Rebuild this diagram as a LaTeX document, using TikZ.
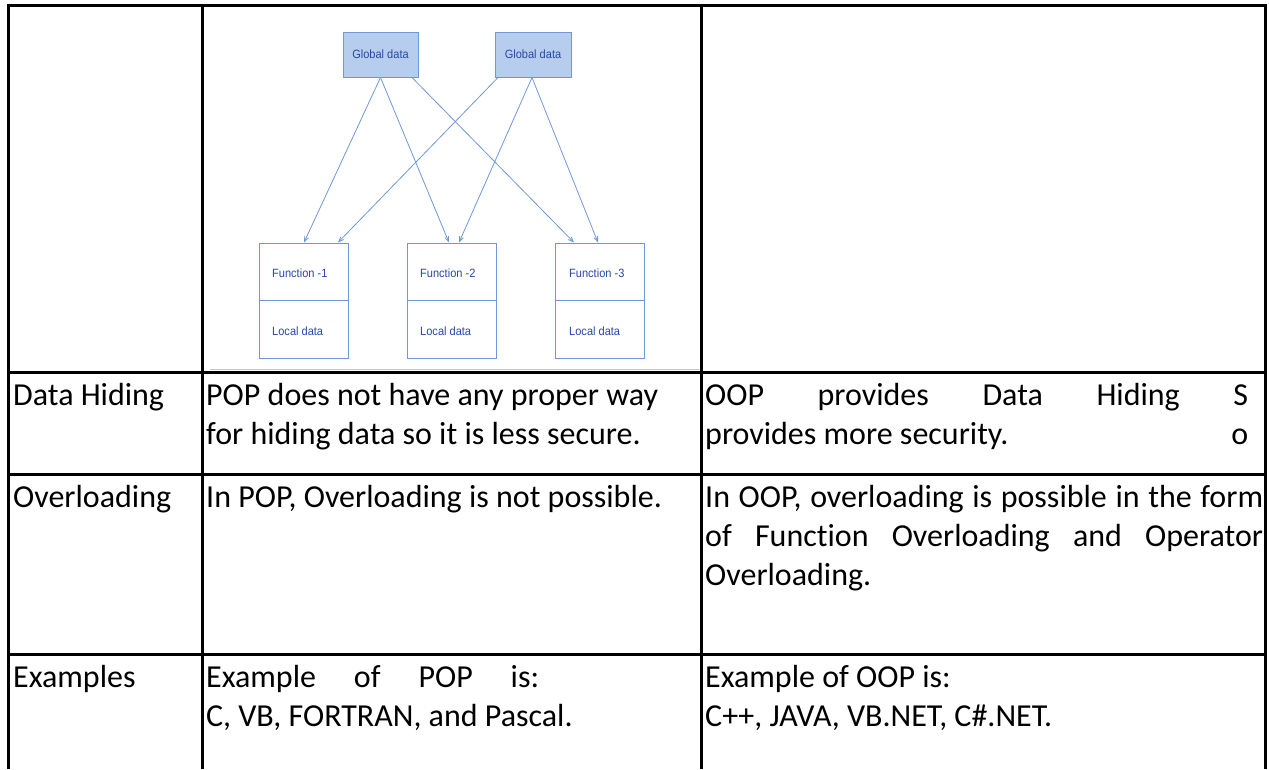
\documentclass[tikz,border=0pt]{standalone}
\usepackage{fontspec}
\setmainfont{Carlito}[Ligatures=NoCommon]
\newfontfamily\diagfont{Liberation Sans}
\usetikzlibrary{arrows.meta}
\definecolor{dline}{RGB}{112,152,216}
\definecolor{dfill}{RGB}{183,205,238}
\definecolor{dtext}{RGB}{40,72,165}
\begin{document}
\begin{tikzpicture}[x=1pt,y=-1pt,
  rule/.style={line width=3pt,black},
  cell/.style={anchor=base west,inner sep=0pt,font=\fontsize{32}{39}\selectfont},
  gbox/.style={draw=dline,fill=dfill,line width=1pt,minimum width=75pt,minimum height=45pt,inner sep=0pt,text=dtext,font=\diagfont\fontsize{12}{14}\selectfont},
  fbox/.style={draw=dline,line width=1pt,minimum width=89pt,minimum height=115pt,inner sep=0pt},
  dlabel/.style={anchor=west,inner sep=0pt,text=dtext,font=\diagfont\fontsize{12}{14}\selectfont},
  flow/.style={draw=dline,line width=0.8pt,-{Straight Barb[length=5pt,width=4pt]}}
]
\useasboundingbox (0,0) rectangle (1269,769);
\fill[white] (0,0) rectangle (1269,769);

% ---- diagram ----
\node[gbox] (g1) at (380.5,54.5) {\scalebox{0.92}[1]{Global data}};
\node[gbox,minimum width=76pt] (g2) at (533,54.5) {\scalebox{0.92}[1]{Global data}};
\node[fbox] (f1) at (303.5,300.5) {};
\node[fbox] (f2) at (452,300.5) {};
\node[fbox] (f3) at (599.5,300.5) {};
\draw[dline,line width=1pt] (f1.west) -- (f1.east);
\draw[dline,line width=1pt] (f2.west) -- (f2.east);
\draw[dline,line width=1pt] (f3.west) -- (f3.east);
\node[dlabel] (f1t) at (272,273) {\scalebox{0.92}[1]{Function -1}};
\node[dlabel] (f1l) at (272,331) {\scalebox{0.92}[1]{Local data}};
\node[dlabel] (f2t) at (420,273) {\scalebox{0.92}[1]{Function -2}};
\node[dlabel] (f2l) at (420,331) {\scalebox{0.92}[1]{Local data}};
\node[dlabel] (f3t) at (569,273) {\scalebox{0.92}[1]{Function -3}};
\node[dlabel] (f3l) at (569,331) {\scalebox{0.92}[1]{Local data}};
\draw[flow] (g1.south) -- ([xshift=0.5pt]f1.north);
\draw[flow] (g1.south) -- ([xshift=-3pt]f2.north);
\draw[flow] ([xshift=31.5pt]g1.south) -- ([xshift=-25.5pt]f3.north);
\draw[flow] ([xshift=-35pt]g2.south) -- ([xshift=34.5pt]f1.north);
\draw[flow] ([xshift=-1pt]g2.south) -- ([xshift=7pt]f2.north);
\draw[flow] ([xshift=-1pt]g2.south) -- ([xshift=-1.5pt]f3.north);
\draw[gray!45,line width=1pt] (210,369) -- (699,369);

% ---- table rules ----
\draw[rule] (7,5.5) -- (1267,5.5);
\draw[rule] (8.5,4) -- (8.5,769);
\draw[rule] (202,4) -- (202,769);
\draw[rule] (701,4) -- (701,769);
\draw[rule] (1265.5,4) -- (1265.5,769);
\draw[rule] (8.5,372) -- (1265.5,372);
\draw[rule] (8.5,474) -- (1265.5,474);
\draw[rule] (8.5,654) -- (1265.5,654);

% ---- row: Data Hiding ----
\node[cell] (dh) at (13,405) {Data Hiding};
\node[cell] (pop1a) at (206,405) {POP does not have any proper way};
\node[cell] (pop1b) at (206,444) {for hiding data so it is less secure.};
\node[cell] (oop1a) at (705,405) {\makebox[543pt][s]{OOP provides Data Hiding S}};
\node[cell] (oop1b) at (705,444) {\makebox[543pt][l]{provides more security.\hfill o}};

% ---- row: Overloading ----
\node[cell] (ol) at (13,507) {Overloading};
\node[cell] (pop2) at (206,507) {In POP, Overloading is not possible.};
\node[cell] (oop2a) at (705,507) {\makebox[558pt][s]{In OOP, overloading is possible in the form}};
\node[cell] (oop2b) at (705,546) {\makebox[558pt][s]{of Function Overloading and Operator}};
\node[cell] (oop2c) at (705,585) {Overloading.};

% ---- row: Examples ----
\node[cell] (ex) at (13,687) {Examples};
\node[cell] (pop3a) at (206,687) {\makebox[333pt][s]{Example of POP is:}};
\node[cell] (pop3b) at (206,726) {C, VB, FORTRAN, and Pascal.};
\node[cell] (oop3a) at (705,687) {Example of OOP is:};
\node[cell] (oop3b) at (705,726) {C++, JAVA, VB.NET, C\#.NET.};
\end{tikzpicture}
\end{document}
